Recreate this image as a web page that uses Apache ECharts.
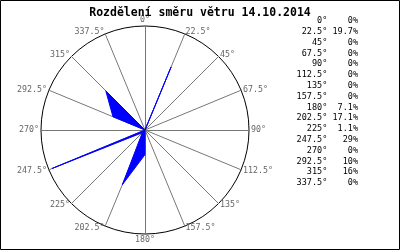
<!DOCTYPE html>
<html><head><meta charset="utf-8">
<script src="https://cdn.jsdelivr.net/npm/echarts@6/dist/echarts.min.js"></script>
<style>html,body{margin:0;padding:0;background:#fff}#c{width:400px;height:250px}</style>
</head><body><div id="c"></div>
<script>
var titleText = 'Rozdělení směru větru 14.10.2014';
var directions = ['0°','22.5°','45°','67.5°','90°','112.5°','135°','157.5°','180°','202.5°','225°','247.5°','270°','292.5°','315°','337.5°'];
var percentLabels = ['0%','19.7%','0%','0%','0%','0%','0%','0%','7.1%','17.1%','1.1%','29%','0%','10%','16%','0%'];
var values = [0,19.7,0,0,0,0,0,0,7.1,17.1,1.1,29,0,10,16,0];
var scaleMax = 30;

// ECharts radar runs counter-clockwise; reorder to go clockwise from north
var order = [0];
for (var i = directions.length - 1; i >= 1; i--) order.push(i);
var indicators = order.map(function(i){ return {name: directions[i], min: 0, max: scaleMax}; });
var radarValues = order.map(function(i){ return values[i]; });

function padLeft(s, n){ while (s.length < n) s = ' ' + s; return s; }

var graphics = [{
  type: 'rect', shape: {x: 0.5, y: 0.5, width: 399, height: 249},
  style: {fill: 'none', stroke: '#000', lineWidth: 1}, silent: true
}];
var rowTop = 21, rowStep = 10.8;
directions.forEach(function(d, i){
  graphics.push({type: 'text', x: 358, y: rowTop + i*rowStep,
    style: {text: padLeft(d, 6) + ' ' + padLeft(percentLabels[i], 5), fill: '#000',
      font: '8.5px "DejaVu Sans Mono"', textAlign: 'right', textVerticalAlign: 'middle'}});
});

var chart = echarts.init(document.getElementById('c'), null, {renderer: 'canvas'});
chart.setOption({
  animation: false,
  title: {text: titleText, left: 'center', top: 2,
    textStyle: {fontFamily: 'DejaVu Sans Mono', fontWeight: 'bold', fontSize: 11.5, color: '#000'}},
  radar: {
    center: [145, 130], radius: 104, shape: 'circle', splitNumber: 1,
    startAngle: 90, nameGap: 2,
    indicator: indicators,
    axisName: {color: '#666', fontFamily: 'DejaVu Sans Mono', fontSize: 8.3},
    axisLine: {lineStyle: {color: '#777', width: 1}},
    splitLine: {lineStyle: {color: '#000', width: 1}},
    splitArea: {show: false}
  },
  series: [{
    type: 'radar', symbol: 'none',
    lineStyle: {color: '#0000ff', width: 1},
    areaStyle: {color: '#0000ff', opacity: 1},
    data: [{value: radarValues}]
  }],
  graphic: graphics
});
</script></body></html>
